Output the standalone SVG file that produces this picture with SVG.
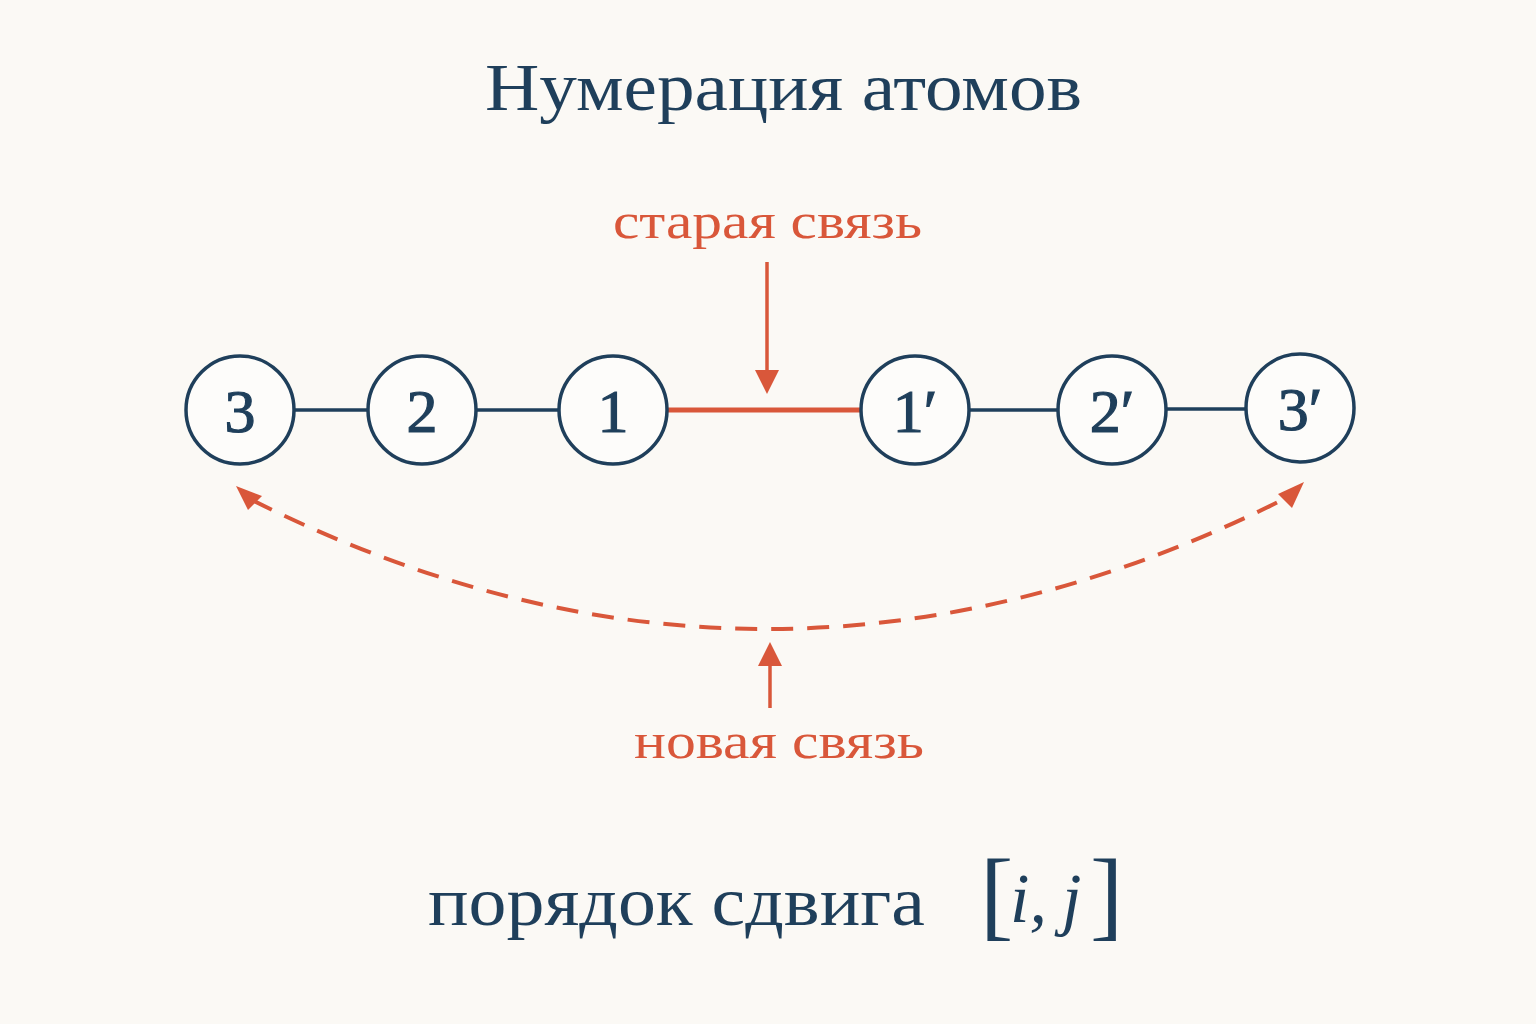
<svg xmlns="http://www.w3.org/2000/svg" width="1536" height="1024" viewBox="0 0 1536 1024">
<style>
.n{fill:#fdfcfa;stroke:#1f3f5b;stroke-width:3.5}
.t{font-family:"Liberation Serif","DejaVu Serif",serif;fill:#1f3f5b}
.num{font-family:"Liberation Serif","DejaVu Serif",serif;fill:#1f3f5b;stroke:#1f3f5b;stroke-width:1.2;font-size:62px;text-anchor:middle}
.r{font-family:"Liberation Serif","DejaVu Serif",serif;fill:#d9573a}
.b{stroke:#1f3f5b;stroke-width:3.5}
.ah{fill:#d9573a}
</style>
<rect width="1536" height="1024" fill="#fbf9f5"/>
<text class="t" x="485" y="110" font-size="68" textLength="597" lengthAdjust="spacingAndGlyphs">Нумерация атомов</text>
<g id="connectors">
<line class="b" x1="294" y1="410" x2="368" y2="410"/>
<line class="b" x1="476" y1="410" x2="559" y2="410"/>
<line x1="667" y1="410" x2="861" y2="410" stroke="#d9573a" stroke-width="5"/>
<line class="b" x1="969" y1="410" x2="1058" y2="410"/>
<line class="b" x1="1166" y1="409" x2="1246" y2="409"/>
<line x1="767" y1="262" x2="767" y2="375" stroke="#d9573a" stroke-width="3.5"/>
<path class="ah" d="M755,370 L779,370 L767,394 Z"/>
<path d="M252,500 Q770,760 1290,496" fill="none" stroke="#d9573a" stroke-width="4" stroke-dasharray="22,14"/>
<path class="ah" d="M236,486 L262,496 L248,510 Z"/>
<path class="ah" d="M1304,482 L1292,508 L1278,494 Z"/>
<line x1="770" y1="708" x2="770" y2="660" stroke="#d9573a" stroke-width="3.5"/>
<path class="ah" d="M758,666 L782,666 L770,642 Z"/>
</g>
<g id="n3"><circle class="n" cx="240" cy="410" r="54"/><text class="num" x="240" y="432">3</text></g>
<g id="n2"><circle class="n" cx="422" cy="410" r="54"/><text class="num" x="422" y="432">2</text></g>
<g id="n1"><circle class="n" cx="613" cy="410" r="54"/><text class="num" x="613" y="432">1</text></g>
<g id="n1p"><circle class="n" cx="915" cy="410" r="54"/><text class="num" x="915" y="432">1′</text></g>
<g id="n2p"><circle class="n" cx="1112" cy="410" r="54"/><text class="num" x="1112" y="432">2′</text></g>
<g id="n3p"><circle class="n" cx="1300" cy="408" r="54"/><text class="num" x="1300" y="430">3′</text></g>
<text class="r" x="613" y="238" font-size="50" textLength="309" lengthAdjust="spacingAndGlyphs">старая связь</text>
<text class="r" x="634" y="758" font-size="50" textLength="290" lengthAdjust="spacingAndGlyphs">новая связь</text>
<text class="t" x="428" y="925" font-size="70" textLength="497" lengthAdjust="spacingAndGlyphs">порядок сдвига</text>
<text class="t" x="980" y="928" font-size="100">[</text>
<text class="t" x="1010" y="922" font-size="70" font-style="italic">i,</text>
<text class="t" x="1062" y="922" font-size="70" font-style="italic">j</text>
<text class="t" x="1090" y="928" font-size="100">]</text>
</svg>
